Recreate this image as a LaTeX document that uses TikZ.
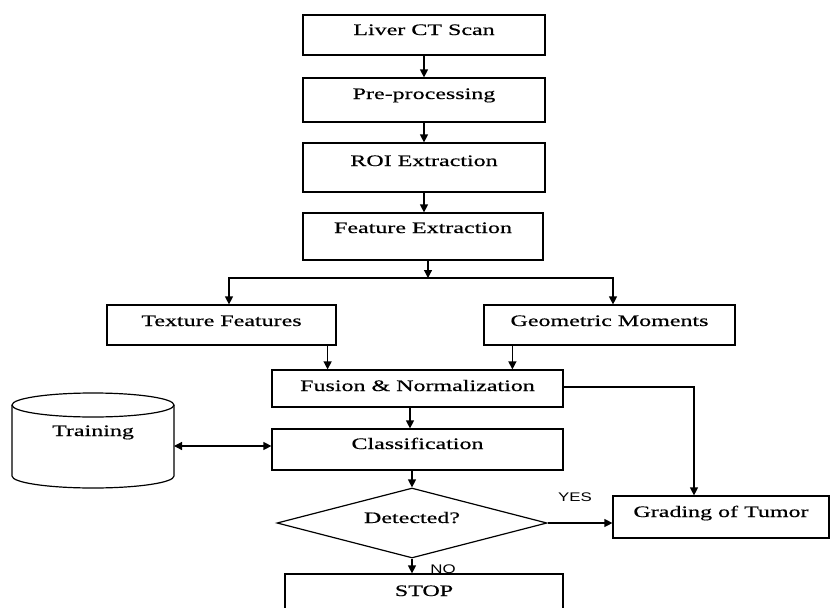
\documentclass[tikz,border=0pt]{standalone}
\usepackage{fontspec}
\setmainfont{Liberation Serif}[FakeStretch=1.5,FakeBold=0.5]
\newfontfamily\tagfont{Liberation Sans}[FakeStretch=1.35]
\usetikzlibrary{arrows.meta,shapes.geometric}

\begin{document}
\begin{tikzpicture}[x=1pt,y=-1pt,line width=1.2pt,
    box/.style args={#1/#2/#3}{draw,minimum width=#1pt,inner xsep=0pt,inner ysep=0pt,text height=#2pt,text depth=#3pt,font=\fontsize{16}{18}\selectfont},
    arr/.style={-{Triangle[length=8pt,width=8pt]}},
    tag/.style={font=\tagfont\fontsize{12.5}{14}\selectfont,inner sep=0pt,text height=9pt,text depth=0pt}]
        \clip (0,0) rectangle (831,608);
        \node[box=242/20/20] (scan) at (424,35) {Liver CT Scan};
        \node[box=242/21/23] (pre) at (424,100) {Pre-processing};
        \node[box=242/23/26] (roi) at (424,167.5) {ROI Extraction};
        \node[box=240/20/27] (feat) at (423,236.5) {Feature Extraction};
        \node[box=229/21/19] (tex) at (221.5,325) {Texture Features};
        \node[box=251/21/19] (geo) at (609.5,325) {Geometric Moments};
        \node[box=291/21/16] (fusion) at (417.5,388.5) {Fusion \& Normalization};
        \node[box=291/20/21] (class) at (417.5,449.5) {Classification};
        \node[box=216/21/21] (grade) at (721,517) {Grading of Tumor};
        \node[draw,diamond,aspect=3.86,minimum width=270pt,minimum height=70pt,inner sep=0pt,
          text height=8pt,text depth=8pt,font=\fontsize{16}{18}\selectfont] (det) at (412,523) {Detected?};
        \node[tag] (yes) at (575,497) {YES};
        \node[tag] (no) at (443,569) {NO};
        \node[box=278/22/29] (stop) at (424,599.5) {STOP};
        \draw (12,405) -- (12,476) arc[start angle=180,end angle=360,x radius=81pt,y radius=12pt] -- (174,405);
        \draw (93,405) ellipse[x radius=81pt,y radius=12pt];
        \node[font=\fontsize{16}{18}\selectfont,inner sep=0pt,text height=8pt,text depth=8pt] (train) at (93,436) {Training};
        \coordinate (db) at (174,446);
        \coordinate (split) at (428,278);
        \draw[arr] (scan.south) -- (pre.north);
        \draw[arr] (pre.south) -- (roi.north);
        \draw[arr] (roi.south) -- (roi.south |- feat.north);
        \draw[arr] (feat.south -| split) -- (split);
        \draw[arr] (split) -| ([xshift=7.5pt]tex.north);
        \draw[arr] (split) -| ([xshift=3.5pt]geo.north);
        \draw[arr] ([xshift=-9pt]tex.south east) -- ([xshift=-9pt]tex.south east |- fusion.north);
        \draw[arr] ([xshift=29pt]geo.south west) -- ([xshift=29pt]geo.south west |- fusion.north);
        \draw[arr] ([xshift=-7.5pt]fusion.south) -- ([xshift=-7.5pt]class.north);
        \draw[arr] ([yshift=1.5pt]fusion.east) -| ([xshift=-27pt]grade.north);
        \draw[{Triangle[length=8pt,width=8pt]}-{Triangle[length=8pt,width=8pt]}] (db) -- (db -| class.west);
        \draw[arr] (det.north |- class.south) -- (det.north);
        \draw[arr] (det.east) -- (det.east -| grade.west);
        \draw[arr] (det.south) -- (det.south |- stop.north);
      \end{tikzpicture}
\end{document}
